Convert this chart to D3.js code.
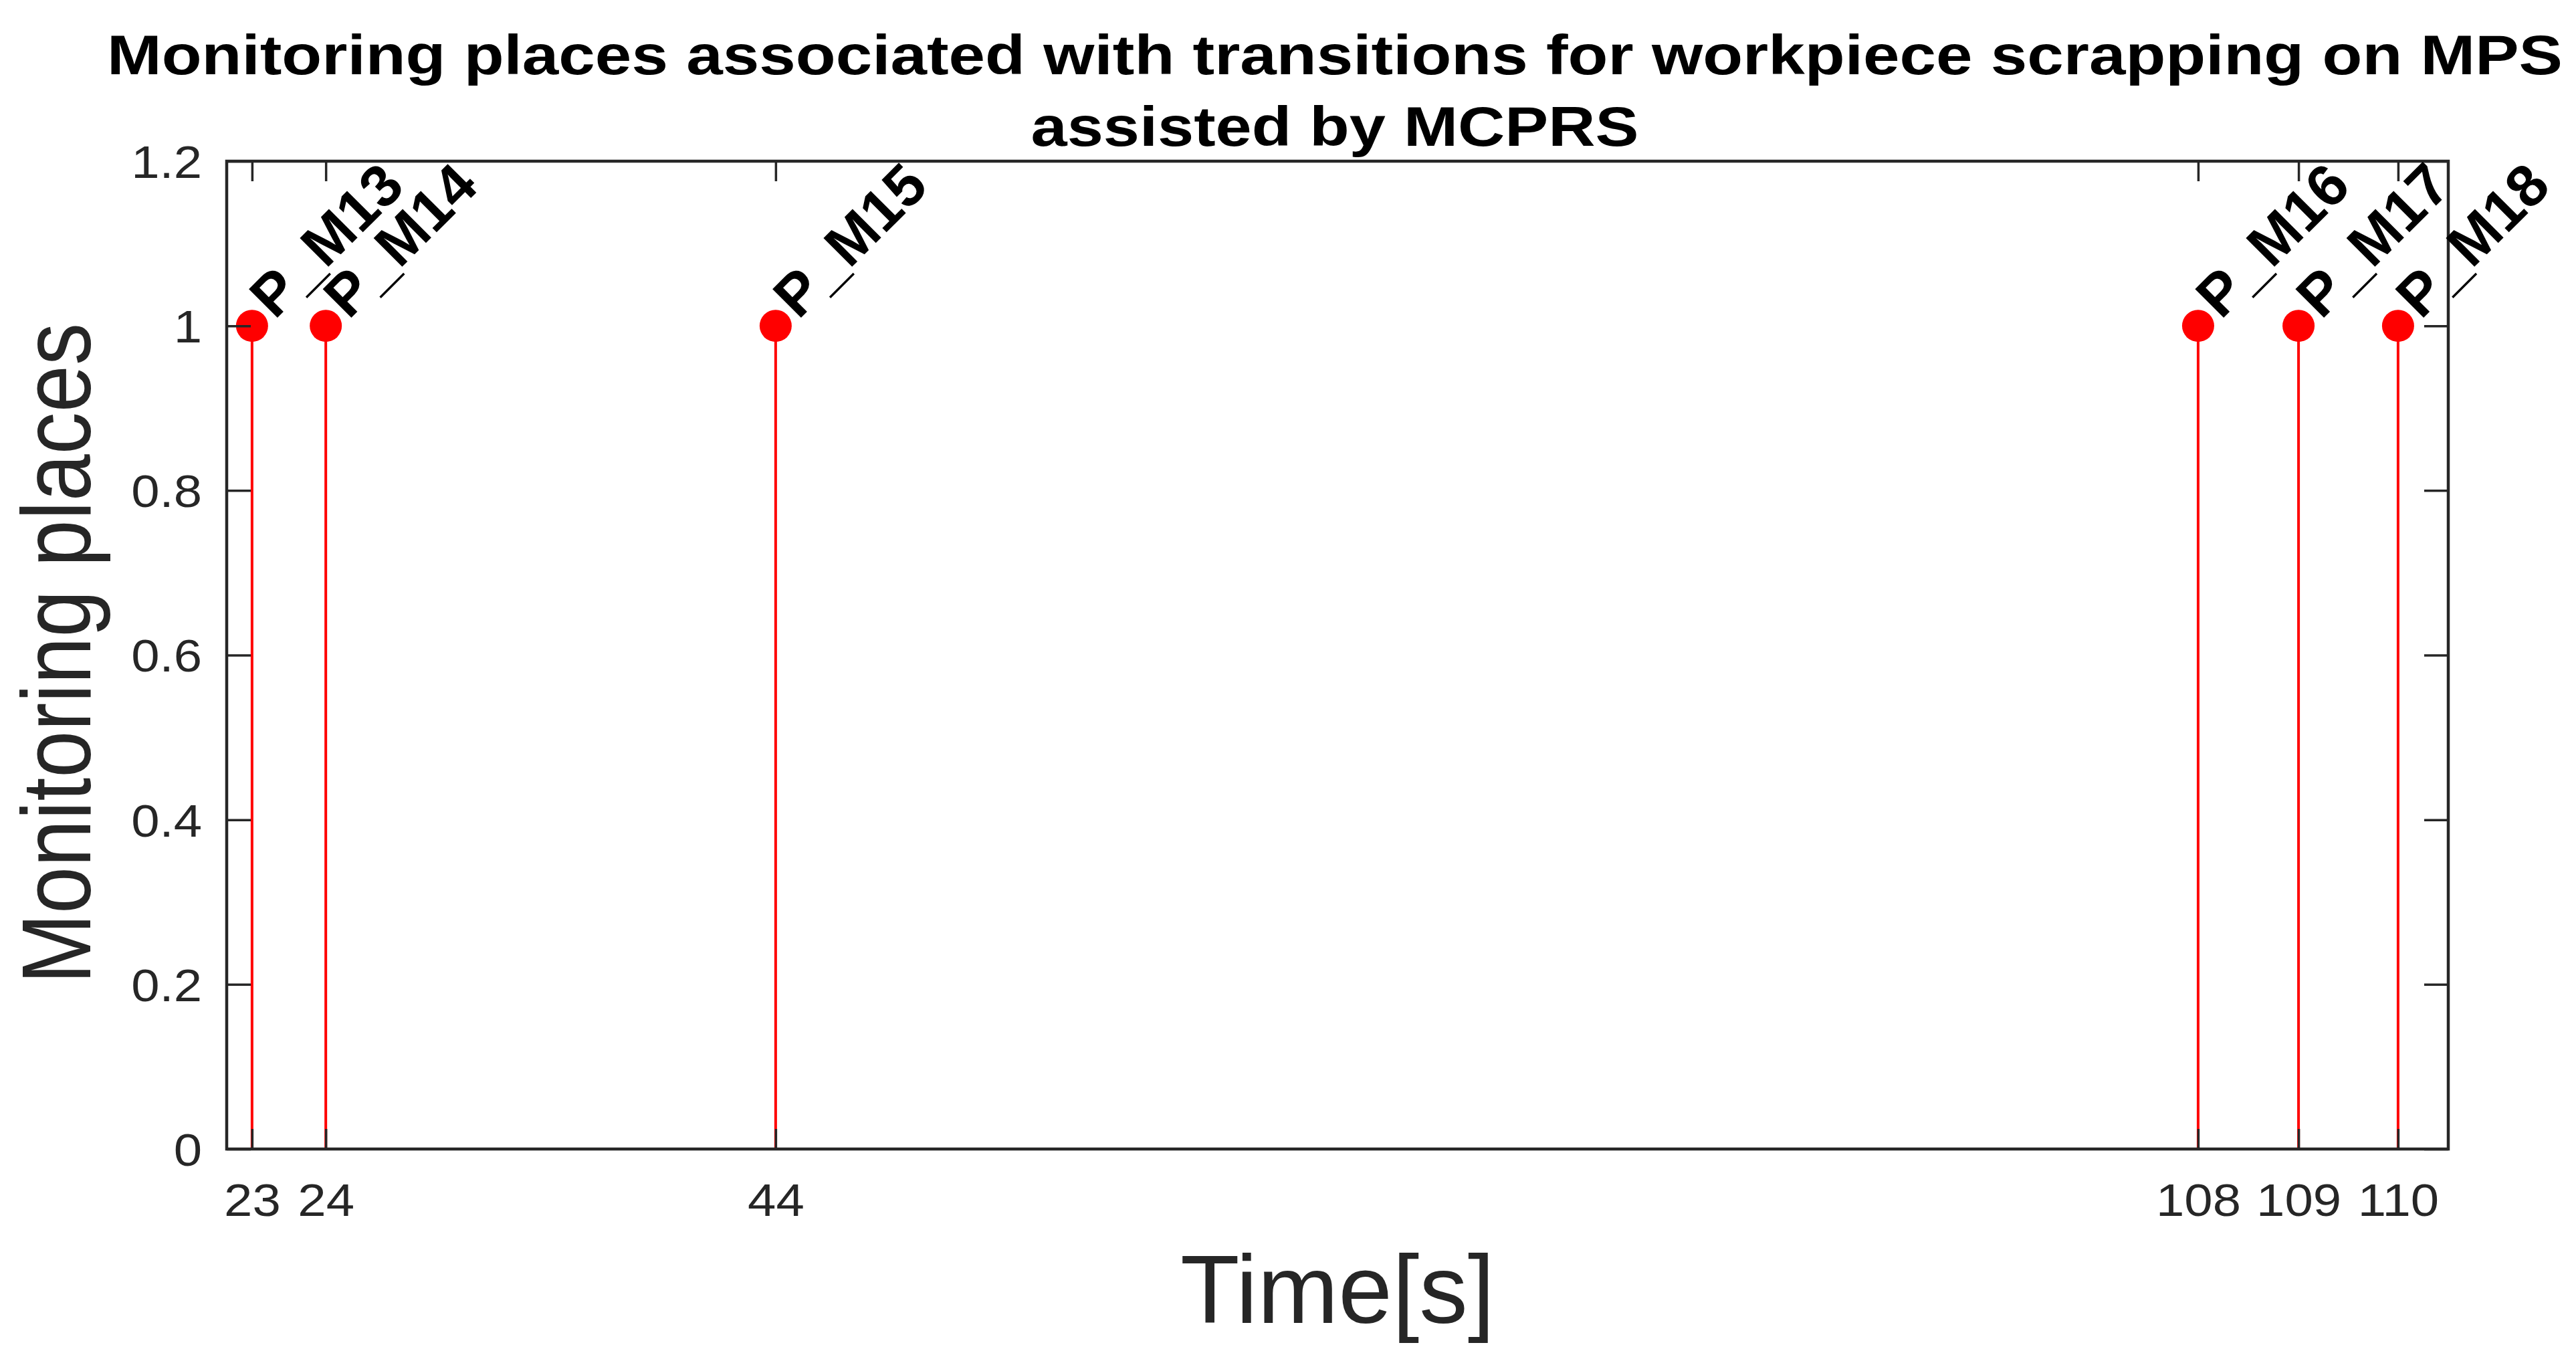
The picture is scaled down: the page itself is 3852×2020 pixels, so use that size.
<!DOCTYPE html>
<html>
<head>
<meta charset="utf-8">
<title>Monitoring places</title>
<script src="https://cdn.jsdelivr.net/npm/d3@7"></script>
<style>
body{margin:0;background:#fff;}
text{font-family:"Liberation Sans",Arial,Helvetica,sans-serif;}
</style>
</head>
<body>
<svg width="3852" height="2020"></svg>
<script>
//data
var times=[23,24,44,108,109,110];
var places=[1,1,1,1,1,1];
var names=["P_M13","P_M14","P_M15","P_M16","P_M17","P_M18"];
var yTicks=[0,0.2,0.4,0.6,0.8,1,1.2];
var titleLines=["Monitoring places associated with transitions for workpiece scrapping on MPS","assisted by MCPRS"];
var xTitle="Time[s]";
var yTitle="Monitoring places";

//the time axis of the original is not evenly spaced:
//share of the axis width where each tick sits
var axisStops=[0.0114,0.0446,0.2471,0.8874,0.9326,0.9774];

var axisColor="#262626";

//stretch a text to k times its natural width
var widen=function(sel,k){
	sel.each(function(){
		d3.select(this)
			.attr("textLength",this.getComputedTextLength()*k)
			.attr("lengthAdjust","spacingAndGlyphs");
	});
};

var svg=d3.select("svg"),
	margin={top:241,right:191,bottom:302,left:339},
	width=+svg.attr("width")-margin.left-margin.right,
	height=+svg.attr("height")-margin.top-margin.bottom,
	g=svg.append("g").attr("transform","translate("+margin.left+","+margin.top+")");

svg.insert("rect",":first-child")
	.attr("width",3852).attr("height",2020).attr("fill","#fff");

//scales
var x=d3.scaleLinear()
	.domain(times)
	.range(axisStops.map(function(f){return f*width;}));
var y=d3.scaleLinear()
	.domain([0,1.2])
	.range([height,0]);

//stems
var data=times.map(function(t,i){return {t:t,v:places[i],name:names[i]};});
g.selectAll(".stem")
	.data(data)
	.enter().append("line")
	.attr("class","stem")
	.attr("x1",function(d){return x(d.t);})
	.attr("x2",function(d){return x(d.t);})
	.attr("y1",y(0))
	.attr("y2",function(d){return y(d.v);})
	.attr("stroke","#ff0000")
	.attr("stroke-width",4);
//markers
g.selectAll(".dot")
	.data(data)
	.enter().append("circle")
	.attr("class","dot")
	.attr("cx",function(d){return x(d.t);})
	.attr("cy",function(d){return y(d.v);})
	.attr("r",24)
	.attr("fill","#ff0000");

//x axis
var gx=g.append("g")
	.attr("transform","translate(0,"+height+")")
	.call(d3.axisBottom(x).tickValues(times).tickSize(-30).tickPadding(52).tickFormat(d3.format("d")));
gx.select(".domain").remove();
gx.selectAll("line").attr("stroke",axisColor).attr("stroke-width",3.5);
gx.selectAll("text").attr("fill",axisColor).attr("font-size",68).call(widen,1.12);
//top ticks
var gxt=g.append("g")
	.call(d3.axisTop(x).tickValues(times).tickSize(-30).tickFormat(""));
gxt.select(".domain").remove();
gxt.selectAll("line").attr("stroke",axisColor).attr("stroke-width",3.5);

//y axis
var gy=g.append("g")
	.call(d3.axisLeft(y).tickValues(yTicks).tickSize(-36).tickPadding(37).tickFormat(d3.format("~g")));
gy.select(".domain").remove();
gy.selectAll("line").attr("stroke",axisColor).attr("stroke-width",3.5);
gy.selectAll("text").attr("fill",axisColor).attr("font-size",68).attr("dy","0.36em").call(widen,1.12);
//right ticks
var gyr=g.append("g")
	.attr("transform","translate("+width+",0)")
	.call(d3.axisRight(y).tickValues(yTicks).tickSize(-36).tickFormat(""));
gyr.select(".domain").remove();
gyr.selectAll("line").attr("stroke",axisColor).attr("stroke-width",3.5);

//box
g.append("rect")
	.attr("width",width)
	.attr("height",height)
	.attr("fill","none")
	.attr("stroke",axisColor)
	.attr("stroke-width",4.5);

//point names
g.selectAll(".name")
	.data(data)
	.enter().append("text")
	.attr("class","name")
	.attr("transform",function(d){return "translate("+(x(d.t)+34)+","+(y(d.v)-8)+") rotate(-45)";})
	.attr("font-size",88)
	.attr("font-weight","bold")
	.attr("fill","#000")
	.text(function(d){return d.name;});

//title
var titleWidths=[3672,909];
g.selectAll(".title")
	.data(titleLines)
	.enter().append("text")
	.attr("class","title")
	.attr("x",width/2-4)
	.attr("y",function(d,i){return 111-margin.top+i*107;})
	.attr("text-anchor","middle")
	.attr("font-size",84)
	.attr("font-weight","bold")
	.attr("fill","#000")
	.attr("textLength",function(d,i){return titleWidths[i];})
	.attr("lengthAdjust","spacingAndGlyphs")
	.text(function(d){return d;});

//axis titles
g.append("text")
	.attr("x",width/2)
	.attr("y",1978-margin.top)
	.attr("text-anchor","middle")
	.attr("font-size",145)
	.attr("fill",axisColor)
	.text(xTitle);
g.append("text")
	.attr("transform","translate("+(135-margin.left)+","+(977-margin.top)+") rotate(-90)")
	.attr("text-anchor","middle")
	.attr("font-size",146)
	.attr("fill",axisColor)
	.attr("textLength",988)
	.attr("lengthAdjust","spacingAndGlyphs")
	.text(yTitle);
</script>
</body>
</html>
